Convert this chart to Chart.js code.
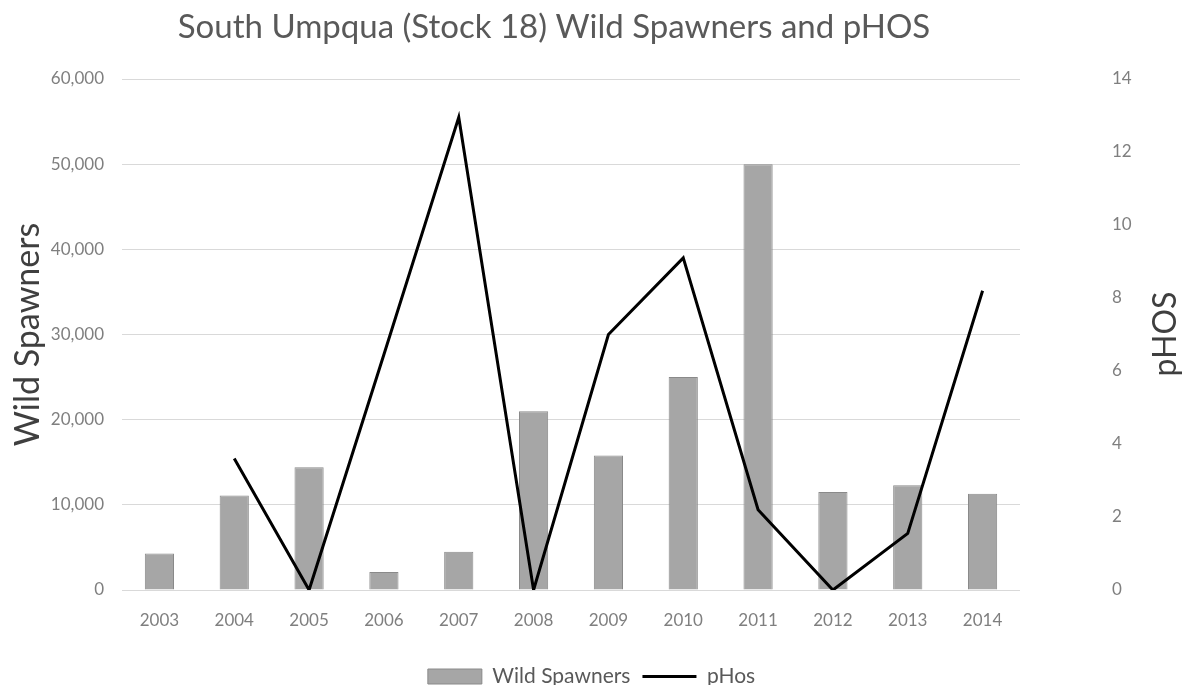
<!DOCTYPE html>
<html>
<head>
<meta charset="utf-8">
<script src="https://cdn.jsdelivr.net/npm/chart.js@4"></script>
<style>
  html, body { margin: 0; padding: 0; background: #ffffff; }
  #wrap { width: 1183px; height: 685px; }
</style>
</head>
<body>
<div id="wrap"><canvas id="salmonChart" width="1183" height="685"></canvas></div>
<script>
// years on the x axis
const years = ['2003', '2004', '2005', '2006', '2007', '2008', '2009', '2010', '2011', '2012', '2013', '2014'];
// wild spawners (left axis)
const wildSpawners = [4300, 11100, 14400, 2100, 4500, 21000, 15800, 25000, 50000, 11500, 12300, 11300];
// pHOS (right axis), no value for 2003
const pHos = [null, 3.6, 0, 6.45, 12.95, 0, 7.0, 9.1, 2.2, 0, 1.55, 8.2];

const fontFamily = 'Lato, "Open Sans", "Liberation Sans", sans-serif';

// chart title (sits a bit left of centre) and the right axis title,
// which reads bottom-to-top like the left one
const extraText = {
    id: 'extraText',
    afterDraw(chart) {
        const ctx = chart.ctx;
        ctx.save();
        ctx.font = '33px ' + fontFamily;
        ctx.fillStyle = '#595959';
        ctx.textAlign = 'center';
        ctx.textBaseline = 'middle';
        ctx.fillText('South Umpqua (Stock 18) Wild Spawners and pHOS', 554, 27);

        ctx.translate(1166, 334);
        ctx.rotate(-Math.PI / 2);
        ctx.font = '32px ' + fontFamily;
        ctx.fillStyle = '#3f3f3f';
        ctx.fillText('pHOS', 0, 0);
        ctx.restore();
    }
};

const ctx = document.getElementById('salmonChart').getContext('2d');
new Chart(ctx, {
    type: 'bar',
    data: {
        labels: years,
        datasets: [{
            type: 'bar',
            label: 'Wild Spawners',
            data: wildSpawners,
            yAxisID: 'y',
            order: 1,
            backgroundColor: '#a6a6a6',
            borderColor: '#8a8a8a',
            borderWidth: 1,
            categoryPercentage: 1.0,
            barPercentage: 0.39,
            pointStyle: 'rect'
        }, {
            type: 'line',
            label: 'pHos',
            data: pHos,
            yAxisID: 'y1',
            order: 0,
            borderColor: '#000000',
            backgroundColor: '#000000',
            borderWidth: 3,
            pointRadius: 0,
            tension: 0,
            pointStyle: 'line'
        }]
    },
    options: {
        responsive: false,
        devicePixelRatio: 1,
        animation: false,
        layout: { padding: { top: 79, bottom: -12, left: 0, right: 0 } },
        plugins: {
            title: { display: false },
            legend: {
                position: 'bottom',
                labels: {
                    usePointStyle: true,
                    pointStyleWidth: 54,
                    boxHeight: 15,
                    padding: 12,
                    color: '#595959',
                    font: { family: fontFamily, size: 21 },
                    sort: (a, b) => a.datasetIndex - b.datasetIndex
                }
            },
            tooltip: { enabled: false }
        },
        scales: {
            x: {
                grid: { display: false },
                border: { display: false },
                ticks: { color: '#7f7f7f', font: { family: fontFamily, size: 17 }, padding: 12 },
                afterFit(scale) { scale.height = 64; }
            },
            y: {
                position: 'left',
                min: 0,
                max: 60000,
                ticks: {
                    stepSize: 10000,
                    color: '#7f7f7f',
                    padding: 18,
                    font: { family: fontFamily, size: 17 },
                    callback: v => v.toLocaleString('en-US')
                },
                grid: { color: '#d9d9d9', lineWidth: 1, drawTicks: false },
                border: { display: false },
                title: {
                    display: true,
                    text: 'Wild Spawners',
                    color: '#3f3f3f',
                    font: { family: fontFamily, size: 34 },
                    padding: { top: 8, bottom: 0 }
                },
                afterFit(scale) { scale.width = 122; }
            },
            y1: {
                position: 'right',
                min: 0,
                max: 14,
                ticks: {
                    stepSize: 2,
                    color: '#7f7f7f',
                    padding: 84,
                    font: { family: fontFamily, size: 17 }
                },
                grid: { display: false },
                border: { display: false },
                afterFit(scale) {
                    scale.width = 163;
                    // the big tick gap would otherwise push the plot down
                    scale.paddingTop = 0;
                    scale.paddingBottom = 0;
                }
            }
        }
    },
    plugins: [extraText]
});
</script>
</body>
</html>
